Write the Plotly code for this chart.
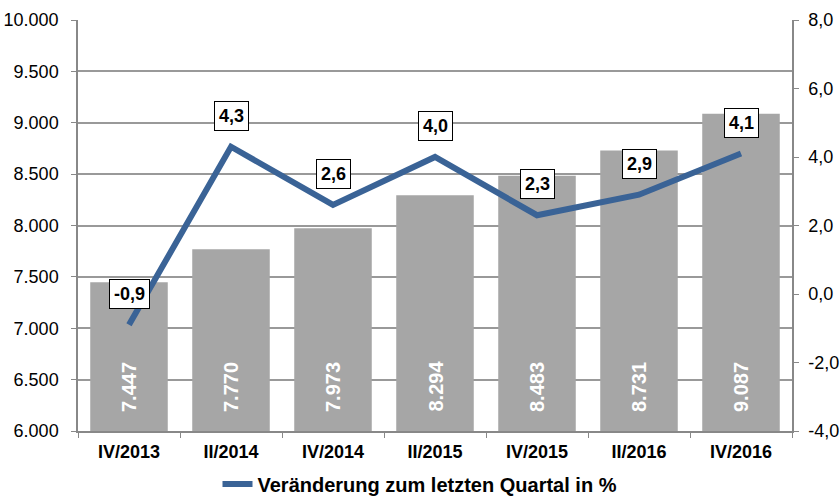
import plotly.graph_objects as go

categories = ["IV/2013", "II/2014", "IV/2014", "II/2015", "IV/2015", "II/2016", "IV/2016"]
bar_values = [7447, 7770, 7973, 8294, 8483, 8731, 9087]
change_pct = [-0.9, 4.3, 2.6, 4.0, 2.3, 2.9, 4.1]
right_ticks = [-4, -2, 0, 2, 4, 6, 8]
right_tick_labels = ["-4,0", "-2,0", "0,0", "2,0", "4,0", "6,0", "8,0"]
series_name = "Veränderung zum letzten Quartal in %"

FONT = "Liberation Sans, Arial, sans-serif"

fig = go.Figure()
fig.add_trace(go.Bar(
    x=categories, y=bar_values, marker=dict(color="#A6A6A6", line=dict(width=0)),
    showlegend=False, hoverinfo="skip",
))
fig.add_trace(go.Scatter(
    x=categories, y=change_pct, yaxis="y2", mode="lines", name=series_name,
    line=dict(color="#3A6396", width=6),
))
for c, v in zip(categories, bar_values):
    fig.add_annotation(
        x=c, y=6000, text="<b>" + f"{v:,}".replace(",", ".") + "</b>",
        showarrow=False, textangle=-90, yanchor="bottom", yshift=17,
        font=dict(size=20, color="white", family=FONT),
    )
for c, v in zip(categories, change_pct):
    fig.add_annotation(
        x=c, y=v, yref="y2", text="<b>" + f"{v:.1f}".replace(".", ",") + "</b>",
        showarrow=False, yshift=31, bgcolor="white", bordercolor="black", borderwidth=1,
        borderpad=4, font=dict(size=18, color="black", family=FONT),
    )

fig.update_layout(
    width=840, height=499, margin=dict(l=78, r=48, t=20, b=68),
    plot_bgcolor="white", paper_bgcolor="white", separators=",.",
    font=dict(family=FONT, size=17, color="black"),
    bargap=0.24,
    xaxis=dict(showline=True, linecolor="#888888", linewidth=1.5, ticks="outside",
               tickson="boundaries", ticklen=5, tickcolor="#888888", automargin=False,
               ticklabelstandoff=4,
               tickfont=dict(size=18, family=FONT, weight="bold"), mirror=False),
    yaxis=dict(range=[6000, 10000], dtick=500, tickformat=",.0f", showgrid=True,
               gridcolor="#999999", gridwidth=1.5, showline=True, linecolor="#888888",
               linewidth=1.5, ticks="outside", ticklen=5, tickcolor="#888888",
               automargin=False, ticklabelstandoff=9,
               tickfont=dict(size=18, family=FONT), zeroline=False),
    yaxis2=dict(range=[-4, 8], tickvals=right_ticks, ticktext=right_tick_labels,
                overlaying="y", side="right",
                showgrid=False, showline=True, linecolor="#888888", linewidth=1.5,
                ticks="outside", ticklen=5, tickcolor="#888888", zeroline=False,
                automargin=False, ticklabelstandoff=6,
                tickfont=dict(size=18, family=FONT)),
    legend=dict(orientation="h", x=0.5, xanchor="center", xref="container",
                y=0.03, yanchor="middle", yref="container",
                font=dict(size=20, family=FONT, weight="bold")),
)

fig.write_html("out.html", config={"displayModeBar": False},
               post_script="document.body.style.margin='0';")
